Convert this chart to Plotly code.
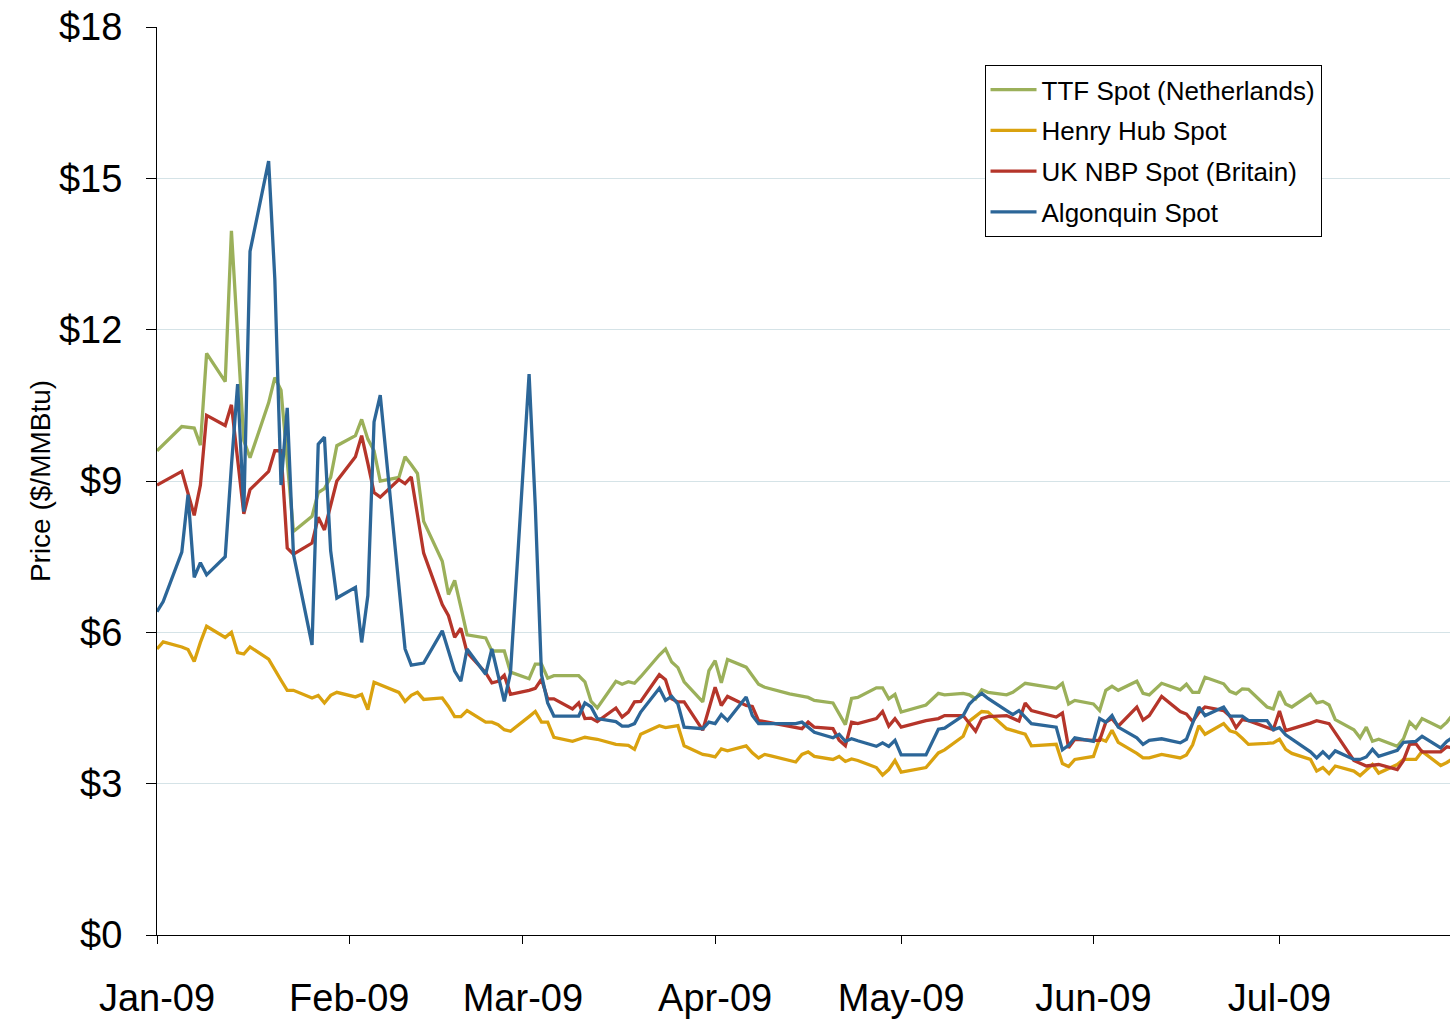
import pandas as pd
import plotly.graph_objects as go

# Day offsets are "days after 2009-01-01" (trading days); values in $/MMBtu
ttf_days = [0,4,6,7,8,11,12,13,14,15,18,19,20,21,22,25,26,27,28,29,32,33,34,35,36,39,40,41,42,43,46,47,48,49,50,53,54,55,56,57,60,61,62,63,64,67,68,69,70,71,74,75,76,77,78,81,82,83,84,85,88,89,90,91,92,95,96,97,98,102,105,106,109,110,111,112,113,116,117,118,119,120,124,126,127,130,131,132,133,134,137,138,140,145,146,147,148,151,152,153,154,155,158,159,160,162,165,166,167,168,169,172,173,174,175,176,179,180,181,182,183,186,187,188,189,190,193,194,195,196,197,200,201,202,203,204,207,208,209]
ttf = [9.60,10.08,10.05,9.71,11.53,10.97,13.96,11.90,9.80,9.46,10.55,11.05,10.80,9.40,8.00,8.30,8.77,8.85,9.07,9.70,9.90,10.22,9.83,9.60,9.00,9.07,9.48,9.32,9.15,8.20,7.41,6.75,7.03,6.50,5.95,5.89,5.63,5.63,5.63,5.21,5.08,5.37,5.37,5.09,5.14,5.14,5.14,5.02,4.63,4.50,5.03,4.97,5.02,4.99,5.12,5.55,5.67,5.41,5.30,5.02,4.62,5.24,5.44,5.00,5.46,5.31,5.14,4.97,4.91,4.78,4.71,4.65,4.60,4.40,4.17,4.69,4.71,4.90,4.90,4.68,4.77,4.42,4.56,4.79,4.76,4.79,4.76,4.68,4.86,4.81,4.76,4.81,4.99,4.89,4.99,4.58,4.65,4.58,4.45,4.85,4.93,4.85,5.03,4.79,4.76,4.99,4.86,4.97,4.81,4.81,5.11,4.98,4.83,4.78,4.88,4.87,4.52,4.48,4.83,4.58,4.52,4.77,4.60,4.63,4.56,4.27,4.07,3.91,4.12,3.84,3.88,3.74,3.89,4.22,4.10,4.29,4.11,4.22,4.38]

hh_days = [0,1,4,5,6,7,8,11,12,13,14,15,18,19,20,21,22,25,26,27,28,29,32,33,34,35,36,39,40,41,42,43,46,47,48,49,50,53,54,55,56,57,60,61,62,63,64,67,68,69,70,71,74,75,76,77,78,81,82,83,84,85,88,89,90,91,92,95,96,97,98,99,102,103,104,105,106,109,110,111,112,113,116,117,118,119,120,124,126,127,130,131,133,134,137,138,139,140,141,145,146,147,148,151,152,153,154,155,158,159,160,162,165,166,167,168,169,172,173,174,175,176,179,180,181,182,183,186,187,188,189,190,193,194,195,196,197,200,201,202,203,204,207,208,209]
henry_hub = [5.67,5.81,5.71,5.66,5.42,5.80,6.12,5.90,6.00,5.60,5.57,5.71,5.47,5.25,5.05,4.85,4.85,4.70,4.75,4.60,4.75,4.81,4.72,4.77,4.47,5.01,4.96,4.81,4.63,4.75,4.81,4.67,4.70,4.53,4.33,4.33,4.45,4.22,4.22,4.17,4.07,4.04,4.33,4.43,4.22,4.22,3.92,3.84,3.88,3.92,3.90,3.88,3.78,3.77,3.76,3.68,3.98,4.15,4.11,4.13,4.15,3.75,3.58,3.56,3.53,3.69,3.65,3.75,3.61,3.51,3.58,3.55,3.45,3.43,3.58,3.63,3.54,3.48,3.54,3.44,3.49,3.46,3.32,3.17,3.28,3.46,3.23,3.32,3.61,3.67,3.94,4.24,4.43,4.42,4.09,4.05,4.02,3.98,3.75,3.78,3.40,3.34,3.48,3.54,3.89,3.84,4.06,3.82,3.60,3.51,3.51,3.58,3.51,3.57,3.77,4.15,3.98,4.19,4.05,4.01,3.90,3.78,3.80,3.81,3.88,3.68,3.60,3.48,3.25,3.32,3.20,3.35,3.25,3.16,3.27,3.38,3.21,3.38,3.48,3.48,3.48,3.64,3.36,3.42,3.50]

nbp_days = [0,4,6,7,8,11,12,13,14,15,18,19,20,21,22,25,26,27,28,29,32,33,34,35,36,39,40,41,42,43,46,47,48,49,50,53,54,55,56,57,60,61,62,63,64,67,68,69,70,71,74,75,76,77,78,81,82,83,84,85,88,90,91,92,95,96,97,98,104,105,106,109,110,111,112,113,116,117,118,119,120,124,126,127,130,131,132,133,134,137,138,139,140,141,145,146,147,148,151,152,153,154,155,158,159,160,162,165,166,167,168,169,172,173,174,175,176,180,181,182,186,187,189,190,193,195,197,200,201,202,203,204,207,208,209]
uk_nbp = [8.92,9.19,8.32,8.92,10.30,10.10,10.51,9.40,8.35,8.83,9.19,9.60,9.60,7.67,7.55,7.77,8.28,8.03,8.50,9.00,9.48,9.90,9.35,8.77,8.68,9.03,8.95,9.08,8.33,7.57,6.55,6.33,5.90,6.08,5.60,5.20,5.00,5.03,5.15,4.77,4.85,4.89,5.07,4.68,4.68,4.48,4.60,4.29,4.30,4.23,4.50,4.32,4.42,4.62,4.63,5.16,5.06,4.68,4.62,4.62,4.06,4.91,4.55,4.73,4.55,4.53,4.25,4.23,4.09,4.22,4.12,4.09,3.86,3.75,4.22,4.19,4.29,4.43,4.14,4.29,4.12,4.25,4.29,4.35,4.35,4.19,4.04,4.29,4.33,4.35,4.29,4.24,4.60,4.45,4.32,4.40,3.71,3.88,3.86,3.86,4.22,4.29,4.14,4.52,4.26,4.35,4.73,4.43,4.38,4.23,4.41,4.52,4.45,4.34,4.11,4.27,4.25,4.07,4.44,4.05,4.20,4.25,4.19,4.00,3.46,3.35,3.38,3.28,3.46,3.78,3.79,3.63,3.63,3.73,3.71]

alg_days = [0,1,4,5,6,7,8,11,12,13,14,15,18,19,20,21,22,25,26,27,28,29,32,33,34,35,36,39,40,41,42,43,46,47,48,49,50,53,54,55,56,57,60,61,62,63,64,67,68,69,70,71,74,75,76,77,78,81,82,83,84,85,88,89,90,91,92,95,96,97,98,102,103,104,105,106,109,110,111,112,113,116,117,118,119,120,124,126,127,130,131,132,133,134,137,138,139,141,145,146,147,148,151,152,153,154,155,158,159,160,162,165,166,167,168,169,172,173,174,175,176,179,180,181,182,183,186,187,188,189,190,193,194,195,196,197,200,201,203,204,207,208,209]
algonquin = [6.41,6.61,7.59,8.73,7.09,7.38,7.14,7.50,9.30,10.92,8.39,13.55,15.34,13.00,8.92,10.45,7.55,5.75,9.73,9.87,7.62,6.68,6.89,5.80,6.73,10.17,10.70,6.90,5.67,5.35,5.37,5.39,6.03,5.63,5.23,5.03,5.67,5.17,5.67,5.15,4.63,5.20,11.12,8.50,5.16,4.60,4.34,4.34,4.34,4.60,4.52,4.29,4.23,4.14,4.14,4.19,4.42,4.89,4.65,4.73,4.58,4.12,4.09,4.22,4.19,4.37,4.25,4.72,4.35,4.19,4.19,4.19,4.19,4.22,4.12,4.02,3.91,3.98,3.84,3.89,3.85,3.74,3.81,3.74,3.86,3.57,3.57,4.08,4.10,4.35,4.58,4.70,4.79,4.69,4.45,4.37,4.45,4.19,4.12,3.67,3.76,3.91,3.84,4.29,4.22,4.35,4.12,3.91,3.78,3.86,3.89,3.81,3.88,4.19,4.52,4.35,4.52,4.34,4.34,4.34,4.25,4.25,4.07,4.11,3.97,3.88,3.63,3.51,3.63,3.51,3.65,3.48,3.48,3.53,3.68,3.54,3.66,3.82,3.84,3.94,3.71,3.84,3.92]

series_names = ["TTF Spot (Netherlands)", "Henry Hub Spot", "UK NBP Spot (Britain)", "Algonquin Spot"]
month_ticks = ["2009-01-01", "2009-02-01", "2009-03-01", "2009-04-01", "2009-05-01", "2009-06-01", "2009-07-01"]
month_labels = ["Jan-09", "Feb-09", "Mar-09", "Apr-09", "May-09", "Jun-09", "Jul-09"]
price_ticks = [0, 3, 6, 9, 12, 15, 18]
price_labels = ["$0", "$3", "$6", "$9", "$12", "$15", "$18"]

base = pd.Timestamp("2009-01-01")


def to_dates(days):
    return [(base + pd.Timedelta(days=d)).strftime("%Y-%m-%d") for d in days]


colors = ["#9BB05A", "#DAA20F", "#B5352A", "#2C6698"]
data = [(ttf_days, ttf), (hh_days, henry_hub), (nbp_days, uk_nbp), (alg_days, algonquin)]

FONT = "Liberation Sans, Arial, sans-serif"
fig = go.Figure()
for name, col, (d, v) in zip(series_names, colors, data):
    fig.add_trace(go.Scatter(
        x=to_dates(d), y=v, mode="lines", name=name, legendgroup=name,
        line=dict(color=col, width=3.3),
    ))

fig.update_layout(
    width=1450, height=1020,
    margin=dict(l=157, r=0, t=27, b=85, autoexpand=False),
    plot_bgcolor="white", paper_bgcolor="white",
    font=dict(family=FONT, color="black"),
    showlegend=True,
    legend=dict(
        x=0.640, y=0.958, xanchor="left", yanchor="top",
        bordercolor="black", borderwidth=1, bgcolor="white",
        font=dict(size=26, family=FONT, color="black"),
        tracegroupgap=4, itemwidth=46,
    ),
    xaxis=dict(
        type="date", range=["2009-01-01", "2009-07-28 12:00"],
        tickvals=month_ticks, ticktext=month_labels,
        showline=True, linecolor="black", linewidth=1,
        ticks="outside", ticklen=8, tickcolor="black",
        showgrid=False, zeroline=False, automargin=False,
        tickfont=dict(size=38, family=FONT, color="black"),
        ticklabelstandoff=21,
    ),
    yaxis=dict(
        range=[0, 18], tickvals=price_ticks, ticktext=price_labels,
        showline=True, linecolor="black", linewidth=1,
        ticks="outside", ticklen=10, tickcolor="black",
        showgrid=True, gridcolor="#D5E3E7", gridwidth=1,
        zeroline=False, automargin=False,
        tickfont=dict(size=38, family=FONT, color="black"),
        ticklabelstandoff=16,
        title=dict(text="Price ($/MMBtu)", font=dict(size=28, family=FONT, color="black"), standoff=0),
    ),
)

fig.write_html("out.html", config={"displayModeBar": False},
               post_script="document.body.style.margin='0';document.body.style.overflow='hidden';")
